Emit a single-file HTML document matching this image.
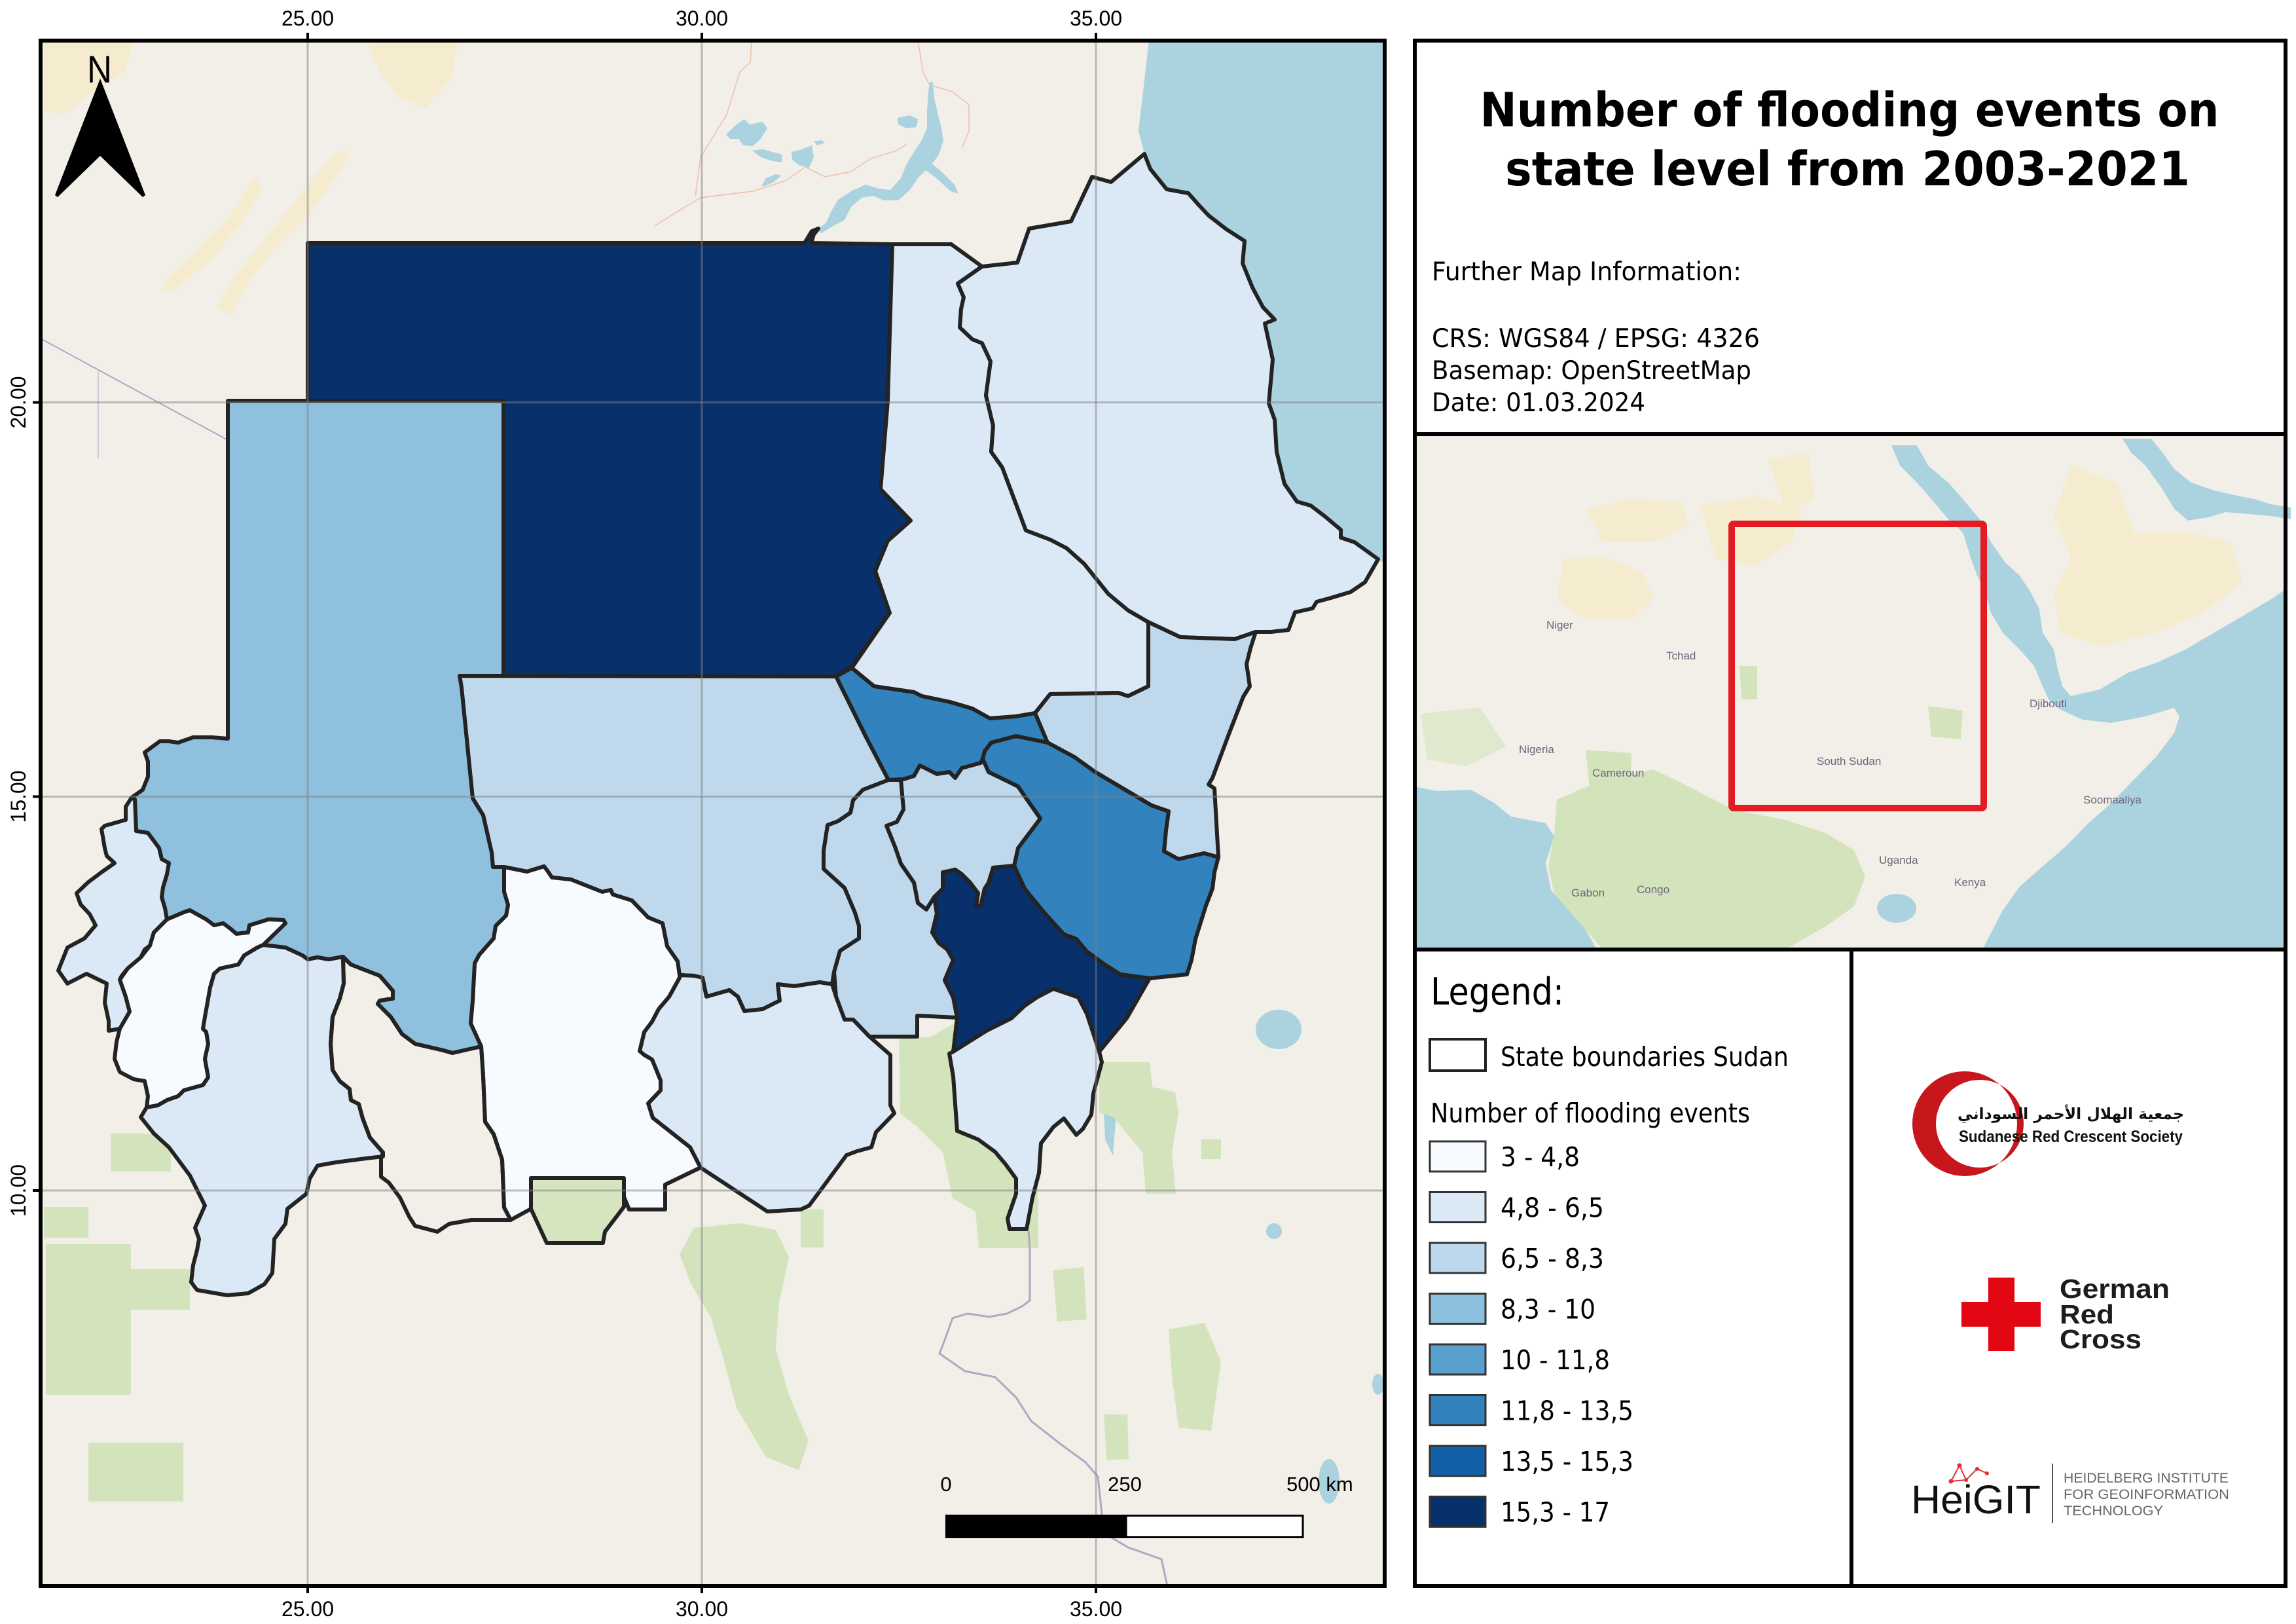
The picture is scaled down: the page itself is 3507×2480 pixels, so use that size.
<!DOCTYPE html>
<html><head><meta charset="utf-8"><style>html,body{margin:0;padding:0;background:#fff}svg{display:block}</style></head><body>
<svg xmlns="http://www.w3.org/2000/svg" width="3507" height="2480" viewBox="0 0 3507 2480">
<defs>
<clipPath id="mapclip"><rect x="62" y="62" width="2053" height="2360"/></clipPath>
<clipPath id="insetclip"><rect x="2163" y="665" width="3326" height="784"/></clipPath>
</defs>
<rect width="3507" height="2480" fill="#fff"/>

<!-- ================= MAIN MAP ================= -->
<g clip-path="url(#mapclip)">
<rect x="62" y="62" width="2053" height="2360" fill="#f2efe9"/>
<!-- sand -->
<g fill="#f5ecd0">
<path d="M67,62 L205,62 L190,110 L140,140 L100,175 L67,170 Z"/>
<path d="M536,228 L520,260 L470,330 L420,380 L380,430 L353,482 L330,470 L360,420 L400,370 L440,320 L480,270 L510,235 Z"/>
<path d="M390,268 L350,330 L300,380 L260,420 L245,446 L270,440 L320,400 L370,340 L400,290 Z"/>
<path d="M560,62 L700,62 L690,120 L650,165 L610,150 L580,110 Z"/>
</g>
<path d="M62,517 L348,672" stroke="#b9a2c4" stroke-width="2" fill="none"/>
<path d="M150,567 L150,700" stroke="#c9b7d0" stroke-width="1.5" fill="none"/>
<!-- roads (faint) -->
<g stroke="#f0a890" stroke-width="1.5" fill="none" opacity="0.7">
<path d="M1000,345 L1040,320 L1070,302 L1150,292 L1200,276 L1230,255 L1260,270 L1300,262 L1330,242 L1370,230 L1385,220"/>
<path d="M1148,62 L1146,95 L1130,110 L1110,175 L1070,240 L1062,300"/>
<path d="M1402,62 L1410,110 L1420,130 L1455,140 L1480,160 L1480,200 L1470,225"/>
</g>
<!-- water -->
<g fill="#aad3df">
<path d="M1755,62 L2115,62 L2115,860 L2105,854 L2094,846 L2069,828 L2048,821 L2048,809 L2023,788 L2002,772 L1981,766 L1962,739 L1950,690 L1947,641 L1938,616 L1944,549 L1932,494 L1947,488 L1929,469 L1913,439 L1898,402 L1901,368 L1873,350 L1846,329 L1831,313 L1815,295 L1782,289 L1757,258 L1748,235 L1739,200 Z"/>
<ellipse cx="1953" cy="1572" rx="35" ry="30"/>
<ellipse cx="1946" cy="1880" rx="12" ry="12"/>
<ellipse cx="2030" cy="2262" rx="16" ry="34"/>
<ellipse cx="2105" cy="2114" rx="9" ry="16"/>
<path d="M1694,1670 L1705,1700 L1700,1765 L1688,1740 L1686,1700 Z"/>
<!-- Lake Nasser -->
<path d="M1247,352 L1262,340 L1270,322 L1280,305 L1300,292 L1322,282 L1342,288 L1360,290 L1376,272 L1384,252 L1396,232 L1408,214 L1416,195 L1416,170 L1418,140 L1420,125 L1425,125 L1427,150 L1432,172 L1438,195 L1441,215 L1434,236 L1424,250 L1438,262 L1458,282 L1464,296 L1452,292 L1430,272 L1414,260 L1402,272 L1390,290 L1372,306 L1350,306 L1334,299 L1316,302 L1300,316 L1290,336 L1271,346 L1255,356 Z"/>
<path d="M1371,180 L1390,176 L1402,182 L1400,194 L1385,196 L1372,190 Z"/>
<!-- Toshka lakes -->
<path d="M1109,205 L1125,190 L1137,182 L1145,190 L1165,186 L1172,196 L1162,212 L1150,223 L1135,222 L1128,212 L1115,212 Z"/>
<path d="M1149,230 L1165,228 L1180,232 L1195,236 L1194,248 L1180,246 L1162,240 Z"/>
<path d="M1209,232 L1225,228 L1240,222 L1243,240 L1236,256 L1220,252 L1210,244 Z"/>
<path d="M1163,284 L1170,272 L1185,266 L1193,268 L1182,278 L1168,284 Z"/>
<path d="M1243,216 L1255,214 L1260,218 L1248,222 Z"/>
</g>
<!-- greens -->
<g fill="#d3e4bd">
<path d="M1679,1622 L1756,1622 L1760,1660 L1795,1668 L1800,1700 L1790,1760 L1796,1823 L1750,1823 L1745,1760 L1700,1705 L1679,1700 Z"/>
<path d="M1373,1584 L1420,1584 L1462,1560 L1470,1640 L1520,1700 L1560,1740 L1585,1780 L1586,1906 L1495,1906 L1490,1850 L1455,1830 L1440,1760 L1400,1720 L1375,1700 Z"/>
<path d="M1060,1875 L1130,1868 L1185,1878 L1205,1920 L1190,1990 L1185,2060 L1205,2130 L1235,2200 L1220,2245 L1170,2225 L1125,2150 L1105,2075 L1085,2010 L1055,1960 L1038,1915 Z"/>
<path d="M1608,1940 L1655,1935 L1660,2015 L1615,2018 Z"/>
<path d="M1785,2030 L1840,2020 L1865,2080 L1850,2185 L1800,2180 L1790,2100 Z"/>
<path d="M1686,2160 L1722,2160 L1724,2228 L1690,2230 Z"/>
<rect x="67" y="1843" width="68" height="47"/>
<rect x="169" y="1731" width="92" height="58"/>
<rect x="140" y="1938" width="150" height="62"/>
<rect x="70" y="1900" width="130" height="230"/>
<rect x="135" y="2203" width="145" height="90"/>
<rect x="1223" y="1847" width="35" height="58"/>
<rect x="1835" y="1740" width="30" height="30"/>
</g>
<!-- borders in basemap -->
<path d="M1571,1879 L1573,1910 L1573,1986 L1561,1995 L1538,2006 L1511,2011 L1478,2006 L1455,2013 L1442,2049 L1435,2067 L1474,2094 L1520,2103 L1552,2134 L1575,2170 L1621,2206 L1658,2233 L1677,2255 L1686,2341 L1723,2363 L1774,2381 L1783,2422" stroke="#b9a2c4" stroke-width="3" fill="none"/>

<!-- STATES -->
<g stroke="#232323" stroke-width="6" stroke-linejoin="round">
<path fill="#08306b" d="M470,371 L1229,371 L1240,353 L1250,349 L1243,358 L1239,371 L1363,373 L1356,612 L1345,747 L1391,795 L1356,826 L1337,872 L1359,936 L1300,1019 L1277,1033 L769,1033 L769,612 L470,612 Z"/>
<path fill="#dbe9f6" d="M1363,373 L1453,373 L1500,407 L1463,433 L1472,454 L1468,472 L1466,500 L1485,518 L1500,524 L1513,552 L1506,604 L1517,650 L1514,690 L1531,714 L1567,810 L1604,824 L1629,837 L1656,861 L1693,907 L1723,932 L1754,950 L1754,1048 L1723,1063 L1708,1058 L1604,1060 L1581,1089 L1552,1094 L1512,1097 L1485,1082 L1451,1072 L1408,1063 L1396,1057 L1335,1048 L1301,1020 L1359,936 L1337,872 L1356,826 L1391,795 L1345,747 L1356,612 Z"/>
<path fill="#dbe9f6" d="M1500,407 L1554,401 L1572,349 L1636,338 L1668,270 L1697,278 L1748,235 L1757,258 L1782,289 L1815,295 L1831,313 L1846,329 L1873,350 L1901,368 L1898,402 L1913,439 L1929,469 L1947,488 L1932,494 L1944,549 L1938,616 L1947,641 L1950,690 L1962,739 L1981,766 L2002,772 L2023,788 L2048,809 L2048,821 L2069,828 L2094,846 L2105,854 L2085,889 L2063,904 L2033,913 L2011,919 L2005,929 L1978,935 L1968,962 L1941,965 L1918,965 L1886,976 L1803,973 L1754,950 L1723,932 L1693,907 L1656,861 L1629,837 L1604,824 L1567,810 L1531,714 L1514,690 L1517,650 L1506,604 L1513,552 L1500,524 L1485,518 L1466,500 L1468,472 L1472,454 L1463,433 Z"/>
<path fill="#bfd8ec" d="M1754,950 L1803,973 L1886,976 L1918,965 L1910,990 L1904,1014 L1909,1048 L1899,1064 L1877,1121 L1852,1188 L1846,1198 L1855,1204 L1861,1309 L1839,1303 L1800,1312 L1778,1300 L1781,1268 L1785,1239 L1759,1230 L1673,1179 L1641,1156 L1600,1134 L1581,1089 L1604,1060 L1708,1058 L1723,1063 L1754,1048 Z"/>
<path fill="#3182bd" d="M1600,1134 L1641,1156 L1673,1179 L1759,1230 L1785,1239 L1781,1268 L1778,1300 L1800,1312 L1839,1303 L1861,1309 L1855,1332 L1852,1357 L1842,1383 L1826,1434 L1820,1466 L1813,1488 L1756,1494 L1711,1488 L1686,1472 L1660,1453 L1644,1434 L1625,1427 L1596,1395 L1565,1357 L1549,1322 L1555,1295 L1589,1250 L1568,1220 L1555,1201 L1510,1179 L1501,1159 L1504,1147 L1514,1134 L1552,1124 Z"/>
<path fill="#3182bd" d="M1277,1033 L1301,1020 L1335,1048 L1396,1057 L1408,1063 L1451,1072 L1485,1082 L1512,1097 L1552,1094 L1581,1089 L1600,1134 L1552,1124 L1514,1134 L1504,1147 L1501,1159 L1498,1165 L1469,1173 L1459,1188 L1450,1179 L1431,1182 L1405,1169 L1396,1185 L1380,1190 L1357,1191 L1322,1124 Z"/>
<path fill="#bfd8ec" d="M1376,1191 L1380,1190 L1396,1185 L1405,1169 L1431,1182 L1450,1179 L1459,1188 L1469,1173 L1498,1165 L1501,1159 L1510,1179 L1555,1201 L1568,1220 L1589,1250 L1555,1295 L1549,1322 L1517,1325 L1510,1348 L1504,1357 L1498,1383 L1491,1383 L1494,1364 L1482,1348 L1469,1335 L1459,1328 L1443,1332 L1440,1357 L1427,1370 L1415,1389 L1402,1379 L1396,1348 L1376,1319 L1367,1293 L1354,1261 L1370,1255 L1380,1236 Z"/>
<path fill="#bfd8ec" d="M1357,1191 L1376,1191 L1380,1236 L1370,1255 L1354,1261 L1367,1293 L1376,1319 L1396,1348 L1402,1379 L1415,1389 L1427,1370 L1431,1395 L1424,1424 L1434,1440 L1447,1450 L1456,1466 L1443,1497 L1456,1523 L1462,1554 L1401,1551 L1401,1583 L1328,1583 L1303,1557 L1290,1557 L1277,1522 L1274,1484 L1283,1452 L1312,1433 L1312,1414 L1306,1394 L1290,1356 L1258,1327 L1258,1299 L1264,1260 L1280,1254 L1299,1241 L1303,1222 L1318,1206 Z"/>
<path fill="#08306b" d="M1440,1332 L1459,1328 L1469,1335 L1482,1348 L1494,1364 L1491,1383 L1498,1383 L1504,1357 L1510,1348 L1517,1325 L1549,1322 L1565,1357 L1596,1395 L1625,1427 L1644,1434 L1660,1453 L1686,1472 L1711,1488 L1756,1494 L1721,1555 L1679,1606 L1660,1548 L1647,1523 L1609,1510 L1584,1523 L1565,1536 L1545,1555 L1507,1574 L1456,1606 L1462,1554 L1456,1523 L1443,1497 L1456,1466 L1447,1450 L1434,1440 L1424,1424 L1431,1395 L1427,1370 L1440,1357 Z"/>
<path fill="#dbe9f6" d="M1456,1606 L1507,1574 L1545,1555 L1565,1536 L1584,1523 L1609,1510 L1647,1523 L1660,1548 L1679,1606 L1683,1622 L1670,1670 L1667,1702 L1654,1724 L1644,1733 L1625,1708 L1609,1721 L1590,1746 L1587,1791 L1577,1829 L1568,1877 L1542,1877 L1539,1861 L1552,1823 L1552,1800 L1536,1778 L1520,1759 L1494,1740 L1462,1727 L1459,1686 L1456,1644 L1450,1609 Z"/>
<path fill="#bfd8ec" d="M702,1032 L1277,1033 L1322,1124 L1357,1191 L1318,1206 L1303,1222 L1299,1241 L1280,1254 L1264,1260 L1258,1299 L1258,1327 L1290,1356 L1306,1394 L1312,1414 L1312,1433 L1283,1452 L1274,1484 L1271,1503 L1252,1500 L1213,1506 L1188,1503 L1191,1528 L1165,1541 L1137,1544 L1127,1522 L1114,1512 L1079,1522 L1073,1493 L1060,1490 L1038,1489 L1035,1468 L1019,1445 L1012,1410 L990,1401 L965,1375 L936,1366 L933,1359 L920,1362 L872,1343 L843,1340 L837,1331 L831,1323 L805,1331 L770,1324 L753,1324 L751,1302 L738,1245 L722,1219 L705,1050 Z"/>
<path fill="#dbe9f6" d="M1271,1503 L1277,1522 L1290,1557 L1303,1557 L1328,1583 L1360,1611 L1360,1688 L1366,1700 L1338,1729 L1331,1752 L1309,1758 L1293,1764 L1236,1841 L1223,1847 L1172,1850 L1070,1783 L1054,1752 L997,1707 L990,1685 L1009,1665 L1009,1650 L996,1618 L984,1611 L977,1605 L984,1576 L996,1560 L1006,1541 L1022,1522 L1038,1493 L1038,1489 L1060,1490 L1073,1493 L1079,1522 L1114,1512 L1127,1522 L1137,1544 L1165,1541 L1191,1528 L1188,1503 L1213,1506 L1252,1500 Z"/>
<path fill="#f7fbff" d="M770,1324 L805,1331 L831,1323 L837,1331 L843,1340 L872,1343 L920,1362 L933,1359 L936,1366 L965,1375 L990,1401 L1012,1410 L1019,1445 L1035,1468 L1038,1489 L1038,1493 L1022,1522 L1006,1541 L996,1560 L984,1576 L977,1605 L984,1611 L996,1618 L1009,1650 L1009,1665 L990,1685 L997,1707 L1054,1752 L1070,1783 L1016,1809 L1016,1847 L961,1847 L952,1825 L952,1799 L811,1799 L811,1846 L780,1863 L770,1844 L767,1771 L754,1732 L741,1713 L738,1643 L735,1598 L719,1563 L722,1528 L725,1471 L732,1458 L754,1433 L757,1414 L773,1398 L776,1382 L770,1362 Z"/>
<path fill="#d6e5c0" d="M811,1799 L953,1799 L953,1843 L924,1881 L921,1898 L835,1898 L811,1846 Z"/>
<path fill="#8fc1de" d="M348,612 L769,612 L769,1032 L702,1032 L705,1050 L722,1219 L738,1245 L751,1302 L753,1324 L770,1324 L770,1362 L776,1382 L773,1398 L757,1414 L754,1433 L732,1458 L725,1471 L722,1528 L719,1563 L735,1598 L691,1608 L677,1604 L634,1594 L614,1579 L597,1553 L577,1533 L580,1528 L600,1525 L600,1513 L580,1490 L536,1473 L524,1461 L502,1465 L485,1462 L470,1465 L462,1459 L436,1447 L402,1443 L436,1410 L433,1405 L410,1404 L381,1413 L379,1424 L361,1426 L353,1419 L341,1410 L327,1413 L315,1404 L290,1390 L281,1393 L255,1404 L252,1387 L247,1370 L249,1355 L255,1335 L258,1318 L247,1312 L243,1295 L226,1272 L208,1269 L206,1221 L201,1218 L218,1206 L226,1186 L226,1163 L221,1149 L244,1132 L258,1132 L272,1134 L295,1126 L324,1126 L348,1128 Z"/>
<path fill="#dbe9f6" d="M201,1218 L206,1221 L208,1269 L226,1272 L243,1295 L247,1312 L258,1318 L255,1335 L249,1355 L247,1370 L252,1387 L255,1404 L235,1424 L229,1444 L221,1450 L215,1462 L195,1479 L186,1490 L183,1496 L192,1522 L198,1545 L183,1571 L166,1574 L166,1559 L160,1531 L163,1502 L132,1487 L103,1502 L89,1482 L103,1447 L129,1433 L146,1413 L137,1396 L123,1381 L117,1364 L135,1347 L155,1332 L175,1318 L163,1307 L160,1295 L155,1266 L160,1261 L192,1252 L192,1232 Z"/>
<path fill="#f7fbff" d="M255,1404 L281,1393 L290,1390 L315,1404 L327,1413 L341,1410 L353,1419 L361,1426 L379,1424 L381,1413 L410,1404 L433,1405 L436,1410 L402,1443 L393,1447 L373,1459 L364,1473 L336,1479 L327,1487 L321,1508 L318,1525 L313,1553 L310,1571 L315,1576 L318,1594 L313,1617 L318,1645 L310,1657 L281,1665 L272,1674 L255,1680 L241,1688 L224,1691 L226,1674 L221,1651 L204,1648 L183,1637 L175,1617 L178,1591 L183,1571 L198,1545 L192,1522 L183,1496 L195,1479 L215,1462 L229,1444 L235,1424 Z"/>
<path fill="#dbe9f6" d="M402,1443 L436,1447 L462,1459 L470,1465 L485,1462 L502,1465 L524,1461 L525,1502 L519,1525 L508,1553 L505,1594 L508,1634 L519,1651 L534,1663 L536,1680 L548,1686 L554,1708 L565,1737 L585,1760 L585,1766 L559,1769 L513,1775 L485,1780 L473,1800 L468,1823 L439,1846 L436,1869 L419,1892 L416,1944 L404,1961 L379,1975 L347,1978 L301,1970 L292,1958 L295,1932 L301,1909 L304,1892 L298,1875 L313,1841 L290,1795 L258,1752 L235,1731 L215,1706 L224,1691 L241,1688 L255,1680 L272,1674 L281,1665 L310,1657 L318,1645 L313,1617 L318,1594 L315,1576 L310,1571 L313,1553 L318,1525 L321,1508 L327,1487 L336,1479 L364,1473 L373,1459 L393,1447 Z"/>
<path fill="none" d="M524,1461 L536,1473 L580,1490 L600,1513 L600,1525 L580,1528 L577,1533 L597,1553 L614,1579 L634,1594 L677,1604 L691,1608 L735,1598 L738,1643 L741,1713 L754,1732 L767,1771 L770,1844 L780,1863 L720,1863 L686,1869 L668,1881 L634,1872 L625,1858 L611,1829 L594,1806 L582,1797 L582,1769 L585,1760 L565,1737 L554,1708 L548,1686 L536,1680 L534,1663 L519,1651 L508,1634 L505,1594 L508,1553 L519,1525 L525,1502 Z"/>
</g>

<!-- grid -->
<g stroke="#808080" stroke-opacity="0.5" stroke-width="3">
<line x1="470" y1="62" x2="470" y2="2422"/>
<line x1="1072" y1="62" x2="1072" y2="2422"/>
<line x1="1674" y1="62" x2="1674" y2="2422"/>
<line x1="62" y1="614.5" x2="2115" y2="614.5"/>
<line x1="62" y1="1216.5" x2="2115" y2="1216.5"/>
<line x1="62" y1="1818" x2="2115" y2="1818"/>
</g>

<!-- north arrow -->
<polygon points="153,120 222,298 218,301 153,238 88,301 84,298" fill="#000"/>
<text x="152" y="126" font-family="Liberation Sans, sans-serif" font-size="58" text-anchor="middle" textLength="38" lengthAdjust="spacingAndGlyphs">N</text>

<!-- scale bar -->
<rect x="1444" y="2313" width="276" height="36" fill="#000"/>
<rect x="1720" y="2314.5" width="270" height="33" fill="#fff" stroke="#000" stroke-width="3"/>
<g font-family="Liberation Sans, sans-serif" font-size="31" fill="#000">
<text x="1445" y="2277" text-anchor="middle">0</text>
<text x="1718" y="2277" text-anchor="middle">250</text>
<text x="1965" y="2277">500 km</text>
</g>
</g>

<!-- map frame -->
<rect x="62" y="62" width="2053" height="2360" fill="none" stroke="#000" stroke-width="6"/>
<!-- ticks -->
<g stroke="#000" stroke-width="4">
<line x1="470" y1="50" x2="470" y2="62"/><line x1="1072" y1="50" x2="1072" y2="62"/><line x1="1674" y1="50" x2="1674" y2="62"/>
<line x1="470" y1="2422" x2="470" y2="2433"/><line x1="1072" y1="2422" x2="1072" y2="2433"/><line x1="1674" y1="2422" x2="1674" y2="2433"/>
<line x1="50" y1="614.5" x2="62" y2="614.5"/><line x1="50" y1="1216.5" x2="62" y2="1216.5"/><line x1="50" y1="1818" x2="62" y2="1818"/>
</g>
<g font-family="Liberation Sans, sans-serif" font-size="32" fill="#000" text-anchor="middle">
<text x="470" y="39">25.00</text><text x="1072" y="39">30.00</text><text x="1674" y="39">35.00</text>
<text x="470" y="2468">25.00</text><text x="1072" y="2468">30.00</text><text x="1674" y="2468">35.00</text>
<text transform="translate(39,614.5) rotate(-90)">20.00</text>
<text transform="translate(39,1216.5) rotate(-90)">15.00</text>
<text transform="translate(39,1818) rotate(-90)">10.00</text>
</g>

<!-- ================= RIGHT PANEL ================= -->
<!-- inset -->
<g clip-path="url(#insetclip)">
<rect x="2161" y="663" width="1330" height="787" fill="#f2efe9"/>
<g fill="#f5ecd0">
<path d="M2387,854 L2448,849 L2509,874 L2526,915 L2492,946 L2422,946 L2378,915 Z"/>
<path d="M2422,777 L2492,762 L2570,767 L2579,803 L2526,828 L2448,828 Z"/>
<path d="M2596,772 L2684,757 L2753,777 L2736,828 L2684,864 L2622,854 Z"/>
<path d="M2701,701 L2762,691 L2771,762 L2727,782 Z"/>
<path d="M3164,711 L3233,737 L3260,813 L3338,813 L3408,828 L3425,890 L3364,936 L3294,966 L3207,987 L3146,966 L3137,905 L3164,854 L3137,788 Z"/>
</g>
<g fill="#d3e4bd">
<path d="M2378,1221 L2448,1191 L2526,1175 L2579,1201 L2649,1237 L2727,1252 L2788,1272 L2832,1298 L2849,1339 L2832,1384 L2788,1415 L2727,1450 L2448,1450 L2413,1410 L2374,1365 L2365,1324 L2374,1272 Z"/>
<path d="M2422,1145 L2492,1150 L2490,1221 L2430,1225 Z"/>
<path d="M2945,1078 L2998,1085 L2995,1129 L2950,1125 Z"/>
<path d="M2657,1017 L2684,1017 L2684,1068 L2660,1068 Z"/>
<path d="M2170,1090 L2260,1080 L2300,1140 L2240,1170 L2180,1160 Z" opacity="0.6"/>
</g>
<g fill="#aad3df">
<path d="M2889,680 L2902,711 L2928,737 L2950,762 L2976,793 L2998,813 L3011,854 L3020,879 L3033,905 L3041,936 L3059,966 L3085,992 L3107,1017 L3120,1048 L3129,1068 L3146,1083 L3181,1099 L3225,1104 L3277,1094 L3321,1081 L3329,1094 L3321,1119 L3294,1155 L3259,1191 L3225,1226 L3190,1257 L3155,1293 L3120,1323 L3085,1354 L3059,1390 L3041,1425 L3028,1450 L3491,1450 L3491,900 L3469,915 L3425,941 L3382,966 L3338,992 L3294,1012 L3251,1027 L3207,1053 L3163,1063 L3150,1048 L3142,1017 L3137,992 L3120,966 L3115,930 L3102,905 L3085,879 L3063,859 L3041,828 L3024,793 L2998,762 L2976,737 L2945,711 L2928,680 Z"/>
<path d="M3242,670 L3286,670 L3303,691 L3321,716 L3347,737 L3382,749 L3417,757 L3443,762 L3469,770 L3499,775 L3499,793 L3469,788 L3434,785 L3399,782 L3373,790 L3342,795 L3321,777 L3303,747 L3277,711 L3255,691 Z"/>
<path d="M2160,1201 L2195,1208 L2247,1206 L2282,1226 L2308,1247 L2361,1257 L2374,1277 L2361,1318 L2369,1359 L2396,1390 L2422,1420 L2439,1450 L2160,1450 Z"/>
<ellipse cx="2897" cy="1387" rx="30" ry="22"/>
</g>
<g font-family="Liberation Sans, sans-serif" font-size="17" fill="#6f6479">
<text x="2362" y="960">Niger</text><text x="2545" y="1007">Tchad</text><text x="2320" y="1150">Nigeria</text>
<text x="2432" y="1186">Cameroun</text><text x="2775" y="1168">South Sudan</text><text x="2870" y="1319">Uganda</text>
<text x="2985" y="1353">Kenya</text><text x="2400" y="1369">Gabon</text><text x="2500" y="1364">Congo</text>
<text x="3182" y="1227">Soomaaliya</text><text x="3100" y="1080">Djibouti</text>
</g>
<rect x="2645" y="800" width="385" height="434" fill="none" stroke="#e31c23" stroke-width="10" rx="3"/>
</g>

<!-- panel frames -->
<rect x="2161" y="62" width="1330" height="2360" fill="none" stroke="#000" stroke-width="6"/>
<line x1="2161" y1="663" x2="3491" y2="663" stroke="#000" stroke-width="6"/>
<line x1="2161" y1="1450" x2="3491" y2="1450" stroke="#000" stroke-width="6"/>
<line x1="2828" y1="1450" x2="2828" y2="2422" stroke="#000" stroke-width="6"/>

<!-- title -->
<g font-family="DejaVu Sans, sans-serif" font-weight="bold" font-size="72" fill="#000" text-anchor="middle">
<text x="2825" y="193" textLength="1129" lengthAdjust="spacingAndGlyphs">Number of flooding events on</text>
<text x="2822" y="283" textLength="1046" lengthAdjust="spacingAndGlyphs">state level from 2003-2021</text>
</g>
<g font-family="DejaVu Sans, sans-serif" font-size="39" fill="#000">
<text x="2187" y="428" textLength="473" lengthAdjust="spacingAndGlyphs">Further Map Information:</text>
<text x="2187" y="530" textLength="501" lengthAdjust="spacingAndGlyphs">CRS: WGS84 / EPSG: 4326</text>
<text x="2187" y="579" textLength="488" lengthAdjust="spacingAndGlyphs">Basemap: OpenStreetMap</text>
<text x="2187" y="628" textLength="326" lengthAdjust="spacingAndGlyphs">Date: 01.03.2024</text>
</g>

<!-- legend -->
<g font-family="DejaVu Sans, sans-serif" fill="#000">
<text x="2185" y="1534" font-size="57" textLength="204" lengthAdjust="spacingAndGlyphs">Legend:</text>
<rect x="2184" y="1587" width="85" height="48" fill="#fff" stroke="#222" stroke-width="4"/>
<text x="2292" y="1628" font-size="41" textLength="440" lengthAdjust="spacingAndGlyphs">State boundaries Sudan</text>
<text x="2185" y="1714" font-size="41" textLength="488" lengthAdjust="spacingAndGlyphs">Number of flooding events</text>
<g stroke="#333" stroke-width="3">
<rect x="2184" y="1743" width="85" height="46" fill="#f7fbff"/>
<rect x="2184" y="1820.5" width="85" height="46" fill="#dbe9f6"/>
<rect x="2184" y="1898" width="85" height="46" fill="#bdd7ec"/>
<rect x="2184" y="1975.5" width="85" height="46" fill="#8dc0de"/>
<rect x="2184" y="2053" width="85" height="46" fill="#58a1cf"/>
<rect x="2184" y="2130.5" width="85" height="46" fill="#3182bd"/>
<rect x="2184" y="2208" width="85" height="46" fill="#1460a8"/>
<rect x="2184" y="2285.5" width="85" height="46" fill="#08306b"/>
</g>
<g font-size="41">
<text x="2292" y="1781" textLength="121" lengthAdjust="spacingAndGlyphs">3 - 4,8</text>
<text x="2292" y="1858.5" textLength="158" lengthAdjust="spacingAndGlyphs">4,8 - 6,5</text>
<text x="2292" y="1936" textLength="158" lengthAdjust="spacingAndGlyphs">6,5 - 8,3</text>
<text x="2292" y="2013.5" textLength="145" lengthAdjust="spacingAndGlyphs">8,3 - 10</text>
<text x="2292" y="2091" textLength="167" lengthAdjust="spacingAndGlyphs">10 - 11,8</text>
<text x="2292" y="2168.5" textLength="203" lengthAdjust="spacingAndGlyphs">11,8 - 13,5</text>
<text x="2292" y="2246" textLength="203" lengthAdjust="spacingAndGlyphs">13,5 - 15,3</text>
<text x="2292" y="2323.5" textLength="167" lengthAdjust="spacingAndGlyphs">15,3 - 17</text>
</g>
</g>

<!-- logos -->
<path fill="#c8161d" fill-rule="evenodd" d="M3081,1716 A80,80 0 1,0 2921,1716 A80,80 0 1,0 3081,1716 Z M3091,1716 A67,67 0 1,0 2957,1716 A67,67 0 1,0 3091,1716 Z"/>
<text x="3163" y="1709" font-family="DejaVu Sans, sans-serif" font-weight="bold" font-size="23.5" text-anchor="middle" fill="#111">جمعية الهلال الأحمر السوداني</text>
<text x="2992" y="1744" font-family="Liberation Sans, sans-serif" font-weight="bold" font-size="25" fill="#111" textLength="342" lengthAdjust="spacingAndGlyphs">Sudanese Red Crescent Society</text>

<rect x="3037" y="1951" width="40" height="112" fill="#e30613"/>
<rect x="2996" y="1988" width="121" height="38" fill="#e30613"/>
<g font-family="Liberation Sans, sans-serif" font-weight="bold" font-size="41" fill="#1d1d1b">
<text x="3146" y="1982" textLength="168" lengthAdjust="spacingAndGlyphs">German</text>
<text x="3146" y="2021" textLength="83" lengthAdjust="spacingAndGlyphs">Red</text>
<text x="3146" y="2059" textLength="125" lengthAdjust="spacingAndGlyphs">Cross</text>
</g>

<text x="2919" y="2311" font-family="Liberation Sans, sans-serif" font-size="61" fill="#111" textLength="198" lengthAdjust="spacingAndGlyphs">HeiGIT</text>
<g stroke="#e0303a" stroke-width="2" fill="none"><path d="M2980,2262 L2993,2238 L3003,2260 L3020,2243 L3035,2250"/><path d="M2980,2262 L3003,2260"/></g>
<g fill="#e0303a"><circle cx="2980" cy="2262" r="3.5"/><circle cx="2993" cy="2238" r="3.5"/><circle cx="3003" cy="2260" r="3"/><circle cx="3020" cy="2243" r="3"/><circle cx="3035" cy="2250" r="3"/></g>
<line x1="3135" y1="2235" x2="3135" y2="2326" stroke="#555" stroke-width="2"/>
<g font-family="Liberation Sans, sans-serif" font-size="21" fill="#666">
<text x="3152" y="2264" textLength="252" lengthAdjust="spacingAndGlyphs">HEIDELBERG INSTITUTE</text>
<text x="3152" y="2289" textLength="253" lengthAdjust="spacingAndGlyphs">FOR GEOINFORMATION</text>
<text x="3152" y="2314" textLength="152" lengthAdjust="spacingAndGlyphs">TECHNOLOGY</text>
</g>
</svg>
</body></html>
